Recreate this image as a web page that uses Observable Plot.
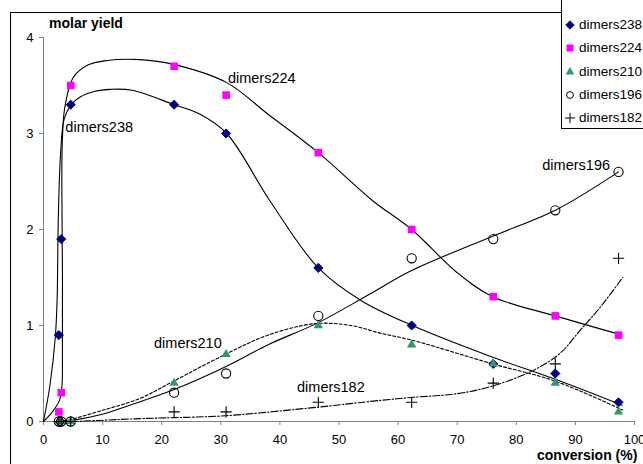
<!DOCTYPE html>
<html><head><meta charset="utf-8">
<script src="https://cdn.jsdelivr.net/npm/d3@7"></script>
<script src="https://cdn.jsdelivr.net/npm/@observablehq/plot@0.6"></script>
<style>
html,body{margin:0;padding:0;overflow:hidden;background:#fff;width:643px;height:464px;}
#wrap{position:relative;width:643px;height:464px;overflow:hidden;font-family:"Liberation Sans",Arial,sans-serif;color:#000;}
#chart{position:absolute;left:0;top:0;}
#frame{position:absolute;left:10px;top:12px;width:700px;height:500px;border:1px solid #000;box-sizing:border-box;pointer-events:none;}
#legend{position:absolute;left:561px;top:-10px;width:120px;height:139px;border:1px solid #000;background:#fff;box-sizing:border-box;}
.row{position:absolute;left:0;height:16px;white-space:nowrap;font-size:13.5px;line-height:16px;}
.row svg{position:absolute;left:2px;top:2px;}
.row span{position:absolute;left:17px;top:0;}
#ytitle{position:absolute;left:49px;top:16px;font-weight:bold;font-size:14px;line-height:14px;white-space:nowrap;}
#xtitle{position:absolute;left:537px;top:448px;font-weight:bold;font-size:14px;line-height:14px;white-space:nowrap;}
</style></head>
<body>
<div id="wrap">
  <div id="chart"></div>
  <div id="frame"></div>
  <div id="ytitle">molar yield</div>
  <div id="xtitle">conversion (%)</div>
  <div id="legend"></div>
</div>
<script>
// ---- data ----
const conversion = [2.6, 3.0, 4.6, 22.1, 30.9, 46.5, 62.3, 76.1, 86.6, 97.3];
const dimers238 = [0.9, 1.9, 3.3, 3.3, 3.0, 1.6, 1.0, 0.6, 0.5, 0.2];
const dimers224 = [0.1, 0.3, 3.5, 3.7, 3.4, 2.8, 2.0, 1.3, 1.1, 0.9];
const dimers210 = [0, 0, 0, 0.4, 0.7, 1.0, 0.8, 0.6, 0.4, 0.1];
const dimers196 = [0, 0, 0, 0.3, 0.5, 1.1, 1.7, 1.9, 2.2, 2.6];
const dimers182 = [0, 0, 0, 0.1, 0.1, 0.2, 0.2, 0.4, 0.6, 1.7];
const seriesNames = ["dimers238", "dimers224", "dimers210", "dimers196", "dimers182"];
const xTicks = [0, 10, 20, 30, 40, 50, 60, 70, 80, 90, 100];
const yTicks = [0, 1, 2, 3, 4];

// fitted curves: [conversion, yield]
const trend238 = [[0,0],[1.1,0.38],[2.0,0.88],[2.3,1.26],[2.5,2.1],[2.9,2.8],[3.5,3.15],[4.7,3.3],[6.2,3.38],[8.7,3.44],[11.3,3.46],[15,3.45],[22.1,3.3],[26.5,3.2],[31,3.0],[38.3,2.3],[46.5,1.6],[54,1.25],[62.4,1.0],[76,0.67],[86.6,0.44],[97.9,0.17]];
const trend224 = [[0,0],[1.5,0.1],[2.7,0.22],[3.1,0.35],[3.2,0.8],[3.2,1.6],[3.1,2.5],[3.2,2.95],[3.6,3.27],[5.0,3.58],[7.4,3.71],[10.7,3.76],[16.3,3.77],[22,3.72],[31,3.53],[38,3.2],[46.5,2.8],[55.7,2.3],[62.3,2.0],[70,1.55],[76,1.3],[86.6,1.1],[97.9,0.9]];
const trend210 = [[2.6,0],[4.5,0.02],[9.6,0.11],[16.3,0.24],[22,0.42],[30.8,0.7],[38,0.9],[46,1.02],[52,1.0],[57,0.92],[62.2,0.85],[76,0.6],[86.6,0.42],[98,0.12]];
const trend196 = [[2.6,0],[4.6,0.01],[9.6,0.07],[14.6,0.17],[22,0.33],[30.8,0.57],[38,0.8],[46.5,1.03],[55,1.32],[62.2,1.57],[76,1.93],[86.6,2.2],[97.3,2.6]];
const trend182 = [[2.6,0],[4.6,0.0],[16.3,0.03],[22,0.04],[30.8,0.06],[46.5,0.15],[57,0.22],[62.2,0.25],[70,0.29],[76,0.37],[82.8,0.53],[87.4,0.71],[90.8,0.95],[94.2,1.19],[98,1.5]];

// label anchors (data units)
const labelText = ["dimers238", "dimers224", "dimers196", "dimers210", "dimers182"];
const labelX = [3.7, 31.2, 84.4, 18.7, 42.9];
const labelY = [3.06, 3.57, 2.67, 0.81, 0.36];

// ---- build ----
const pts = vals => conversion.map((c, i) => ({x: c, y: vals[i]}));
const tr = arr => arr.map(([x, y]) => ({x, y}));
const labels = labelText.map((t, i) => ({t, x: labelX[i], y: labelY[i]}));

const styles = {
  dimers238: {symbol: "diamond2", r: 4.1, fill: "#000080", stroke: "#000080", strokeWidth: 1},
  dimers224: {symbol: "square", r: 4.3, fill: "#ff00ff", stroke: "none"},
  dimers210: {symbol: "triangle", r: 3.5, fill: "#339966", stroke: "none"},
  dimers196: {symbol: "circle", r: 4.6, fill: "none", stroke: "#000", strokeWidth: 1.1},
  dimers182: {symbol: "plus", r: 3.7, fill: "none", stroke: "#000", strokeWidth: 1.1}
};
const values = {dimers238, dimers224, dimers210, dimers196, dimers182};

const lineOpts = {x: "x", y: "y", stroke: "#000", strokeWidth: 1.1, curve: "catmull-rom"};

const chart = Plot.plot({
  width: 660, height: 464,
  marginLeft: 43, marginRight: 26, marginTop: 37, marginBottom: 43,
  style: {background: "transparent", maxWidth: "none", overflow: "visible", fontFamily: "Liberation Sans, Arial, sans-serif"},
  x: {domain: [0, 100], label: null},
  y: {domain: [0, 4], label: null},
  marks: [
    Plot.ruleX([0], {y1: 0, y2: 4, stroke: "#808080"}),
    Plot.ruleY([0], {x1: 0, x2: 100, stroke: "#808080"}),
    Plot.axisX({ticks: xTicks, label: null, tickSize: 4, tickPadding: 9, fontSize: 13, stroke: "#808080", fill: "#000", tickFormat: d => String(d)}),
    Plot.axisY({ticks: yTicks, label: null, tickSize: 4, tickPadding: 6, fontSize: 13, stroke: "#808080", fill: "#000", tickFormat: d => String(d)}),
    Plot.line(tr(trend238), lineOpts),
    Plot.line(tr(trend224), lineOpts),
    Plot.line(tr(trend210), {...lineOpts, strokeDasharray: "3,2"}),
    Plot.line(tr(trend196), lineOpts),
    Plot.line(tr(trend182), {...lineOpts, strokeDasharray: "7,2,1.5,2"}),
    ...seriesNames.map(n => Plot.dot(pts(values[n]), {x: "x", y: "y", ...styles[n]})),
    Plot.text(labels, {x: "x", y: "y", text: "t", textAnchor: "start", lineAnchor: "middle", fontSize: 14.5, fill: "#000"})
  ]
});
document.getElementById("chart").appendChild(chart);

// legend (HTML, symbols via d3 shapes)
const legend = document.getElementById("legend");
const rowY = [24, 47, 71, 94, 117];
const d3sym = {diamond2: d3.symbolDiamond2, square: d3.symbolSquare, triangle: d3.symbolTriangle, circle: d3.symbolCircle, plus: d3.symbolPlus};
seriesNames.forEach((n, i) => {
  const s = styles[n];
  const row = document.createElement("div");
  row.className = "row";
  row.style.top = (rowY[i] + 10 - 8) + "px";
  const path = d3.symbol(d3sym[s.symbol], Math.PI * s.r * s.r * (n === "dimers196" ? 0.55 : 0.85))();
  row.innerHTML = `<svg width="12" height="12" viewBox="-6 -6 12 12"><path d="${path}" fill="${s.fill}" stroke="${s.stroke}" stroke-width="1"/></svg><span>${n}</span>`;
  legend.appendChild(row);
});
</script>
</body></html>
